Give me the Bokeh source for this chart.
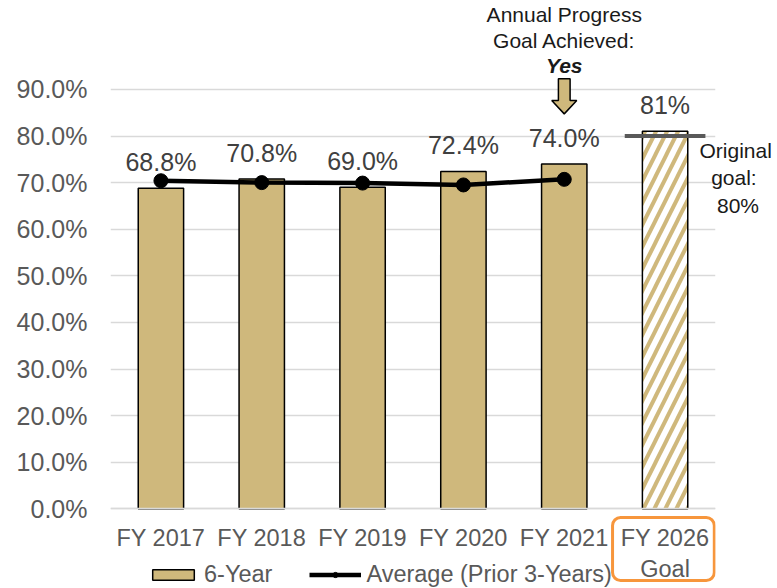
from bokeh.plotting import figure
from bokeh.models import (ColumnDataSource, FactorRange, Range1d, FixedTicker, LinearAxis,
                          NumeralTickFormatter, Legend, LegendItem, Label, LabelSet, BoxAnnotation)
from bokeh.core.properties import value
from bokeh.embed import file_html
from bokeh.resources import INLINE

# ---- data ----
categories = ["FY 2017", "FY 2018", "FY 2019", "FY 2020", "FY 2021", "FY 2026\nGoal"]
six_year = [68.8, 70.8, 69.0, 72.4, 74.0]
goal_value = 81.0
avg_prior3 = [70.4, 70.0, 69.9, 69.5, 70.7]
original_goal = 80.0
y_ticks = [0, 10, 20, 30, 40, 50, 60, 70, 80, 90]

FONT = "Liberation Sans"
TAN = "#CFB87C"
GRID = "#D9D9D9"
TXT = "#595959"

hist_cats = categories[:len(six_year)]
goal_cat = categories[-1]

bars = ColumnDataSource(dict(x=hist_cats, top=[v / 100 for v in six_year],
                             lab=[f"{v:.1f}%" for v in six_year]))
goal_src = ColumnDataSource(dict(x=[goal_cat], top=[goal_value / 100],
                                 lab=[f"{goal_value:.0f}%"]))
line_src = ColumnDataSource(dict(x=hist_cats, y=[v / 100 for v in avg_prior3]))

p = figure(x_range=FactorRange(*categories), y_range=Range1d(-0.171, 1.0908),
           frame_width=605, frame_height=588,
           min_border_left=110, min_border_right=62, min_border_top=0, min_border_bottom=0,
           output_backend="svg", toolbar_location=None)
p.outline_line_color = None
p.background_fill_color = "white"
p.border_fill_color = "white"

# y axis
p.yaxis.ticker = FixedTicker(ticks=[t / 100 for t in y_ticks])
p.yaxis.formatter = NumeralTickFormatter(format="0.0%")
p.yaxis.axis_line_color = None
p.yaxis.major_tick_line_color = None
p.yaxis.major_tick_out = 0
p.yaxis.minor_tick_line_color = None
p.yaxis.major_label_standoff = 23
p.yaxis.major_label_text_font = FONT
p.yaxis.major_label_text_font_size = "25px"
p.yaxis.major_label_text_color = TXT

# x axis fixed at 0%
p.xaxis.fixed_location = 0
p.xaxis.axis_line_color = GRID
p.xaxis.axis_line_width = 1.5
p.xaxis.major_tick_line_color = None
p.xaxis.major_tick_out = 0
p.xaxis.minor_tick_line_color = None
p.xaxis.major_label_standoff = 16
p.xaxis.major_label_text_font = FONT
p.xaxis.major_label_text_font_size = "23.5px"
p.xaxis.major_label_text_color = TXT

p.xgrid.grid_line_color = None
p.ygrid.ticker = FixedTicker(ticks=[t / 100 for t in y_ticks])
p.ygrid.grid_line_color = GRID
p.ygrid.grid_line_width = 1.5

# right-side note on the original goal (as a one-tick axis)
note_tick = 0.71
nb = "\u00a0"
right_ax = LinearAxis(ticker=FixedTicker(ticks=[note_tick]),
                      major_label_overrides={note_tick: f"Original\n{nb*2}goal:\n{nb*3}{original_goal:.0f}%"},
                      axis_line_color=None, major_tick_line_color=None, major_tick_out=0,
                      minor_tick_line_color=None, major_label_standoff=-16,
                      major_label_text_font=FONT, major_label_text_font_size="21px",
                      major_label_text_color="#1a1a1a")
p.add_layout(right_ax, "right")

# bars
bar_r = p.vbar(x="x", top="top", width=0.45, source=bars, fill_color=TAN,
               line_color="black", line_width=1.5)
p.vbar(x="x", top="top", width=0.45, source=goal_src, fill_color="white",
       line_color="black", line_width=1.5, hatch_pattern="/", hatch_color=TAN,
       hatch_scale=22, hatch_weight=4)

# original goal marker
p.rect(x=[goal_cat], y=[original_goal / 100], width=0.8, height=4, height_units="screen",
       fill_color="#595959", line_color=None)

# average line
line_r = p.line(x="x", y="y", source=line_src, line_color="black", line_width=4.5)
dot_r = p.scatter(x="x", y="y", source=line_src, size=14, fill_color="black", line_color="black")

# data labels
for src in (bars, goal_src):
    p.add_layout(LabelSet(x="x", y="top", text="lab", source=src, y_offset=17,
                          text_align="center", text_baseline="alphabetic",
                          text_font=value(FONT), text_font_size=value("25px"),
                          text_color=value("#404040")))

# block arrow above FY 2021
xc = hist_cats.index("FY 2021") + 0.5
sw, hw = 0.058, 0.124
y_top, y_neck, y_tip = 0.923, 0.876, 0.8475
p.patch(x=[xc - sw, xc + sw, xc + sw, xc + hw, xc, xc - hw, xc - sw],
        y=[y_top, y_top, y_neck, y_neck, y_tip, y_neck, y_neck],
        fill_color=TAN, line_color="black", line_width=1.5)

# annotation texts
for txt, yy, style in [("Annual Progress", 1.061, "normal"),
                       ("Goal Achieved:", 1.005, "normal"),
                       ("Yes", 0.952, "bold italic")]:
    p.add_layout(Label(x=xc, y=yy, text=txt, text_align="center", text_baseline="alphabetic",
                       text_font=FONT, text_font_size="21px", text_font_style=style,
                       text_color="#1a1a1a"))

# orange highlight box around goal tick label
gi = len(categories) - 1 + 0.5
p.add_layout(BoxAnnotation(left=gi - 0.521, right=gi + 0.488, top=-0.0187, bottom=-0.1538,
                           fill_alpha=0, line_color="#F7963C", line_width=3,
                           line_alpha=1, border_radius=8))

legend = Legend(items=[LegendItem(label="6-Year", renderers=[bar_r]),
                       LegendItem(label="Average (Prior 3-Years)", renderers=[line_r, dot_r])],
                orientation="horizontal", location=(37, 0), padding=0, margin=0,
                spacing=37, label_standoff=5, glyph_width=52, glyph_height=13,
                label_text_font=FONT, label_text_font_size="23.5px", label_text_color=TXT,
                background_fill_alpha=0, border_line_color=None)
p.add_layout(legend, "center")

open("out.html", "w").write(file_html(p, INLINE))
